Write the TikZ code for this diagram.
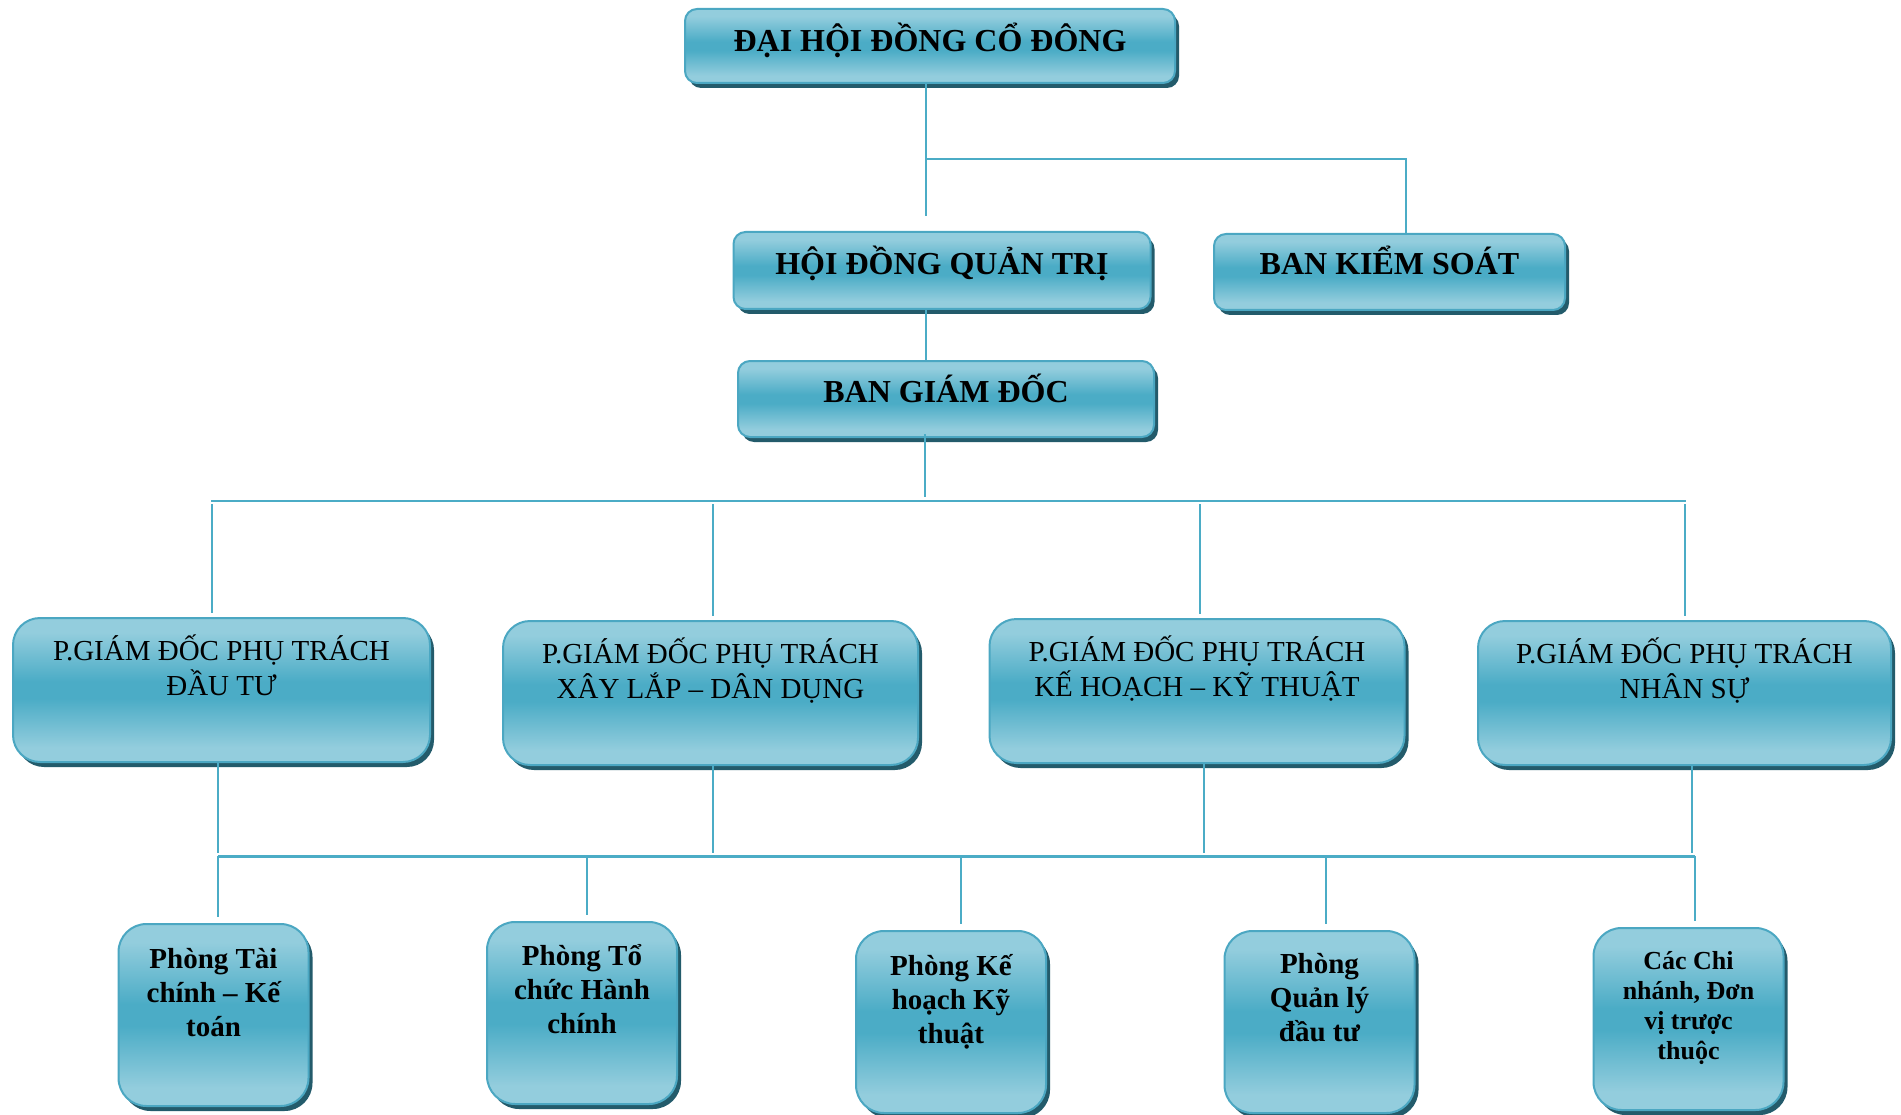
\documentclass[tikz,border=0pt]{standalone}
\usepackage{fontspec}
\setmainfont{Liberation Serif}
\usetikzlibrary{shadows}

\definecolor{boxlite}{HTML}{93CDDD}
\definecolor{boxmid}{HTML}{4BACC6}
\definecolor{boxedge}{HTML}{4BA7C2}
\definecolor{boxshade}{HTML}{235B6B}
\definecolor{linkc}{HTML}{4BACC6}

% light - dark - light, the middle 50bp is mapped onto the box
\pgfdeclareverticalshading{boxfill}{100bp}{color(0bp)=(boxlite); color(25bp)=(boxlite); color(30bp)=(boxlite); color(47bp)=(boxmid); color(53bp)=(boxmid); color(70bp)=(boxlite); color(100bp)=(boxlite)}

% text of a box: width, height, first baseline, lines
\newcommand{\boxtxt}[4]{\parbox[c][#2pt][t]{#1pt}{\centering\rule{0pt}{#3pt}#4}}

\tikzset{
    orgbox/.style={draw=boxedge, line width=2pt, shading=boxfill, inner sep=0pt,
        drop shadow={shadow xshift=4pt, shadow yshift=-5pt, fill=boxshade, opacity=1}},
    headbox/.style={orgbox, rounded corners=12pt, font=\bfseries\fontsize{32}{38}\selectfont},
    deputybox/.style={orgbox, rounded corners=27pt, font=\fontsize{29}{35}\selectfont},
    deptbox/.style={orgbox, rounded corners=28pt, font=\bfseries\fontsize{29}{34}\selectfont},
    conn/.style={draw=linkc, line width=2.5pt},
}

\begin{document}
\begin{tikzpicture}[x=1pt, y=-1pt]

    % Page frame
    \useasboundingbox (0,0) rectangle (1901,1115);

    % Bus levels
    \def\yja{159}   % under the general meeting
    \def\yjb{501}   % under the board of directors
    \def\yjc{856}   % under the deputies

    % Top levels
    \node[headbox] (dhdcd) at (930,46)     {\boxtxt{490}{74}{43}{ĐẠI HỘI ĐỒNG CỔ ĐÔNG}};
    \node[headbox] (hdqt)  at (942,270.5)  {\boxtxt{417}{77}{43}{HỘI ĐỒNG QUẢN TRỊ}};
    \node[headbox] (bks)   at (1389.5,272) {\boxtxt{351}{76}{41}{BAN KIỂM SOÁT}};
    \node[headbox] (bgd)   at (946,399)    {\boxtxt{416}{76}{41}{BAN GIÁM ĐỐC}};

    % Deputy directors
    \node[deputybox] (pdt) at (221.5,690) {\boxtxt{417}{144}{42}{P.GIÁM ĐỐC PHỤ TRÁCH\\ĐẦU TƯ}};
    \node[deputybox] (pxl) at (710.5,693) {\boxtxt{415}{144}{42}{P.GIÁM ĐỐC PHỤ TRÁCH\\XÂY LẮP – DÂN DỤNG}};
    \node[deputybox] (pkh) at (1197,691)  {\boxtxt{415}{144}{42}{P.GIÁM ĐỐC PHỤ TRÁCH\\KẾ HOẠCH – KỸ THUẬT}};
    \node[deputybox] (pns) at (1684.5,693) {\boxtxt{413}{144}{42}{P.GIÁM ĐỐC PHỤ TRÁCH\\NHÂN SỰ}};

    % Departments
    \node[deptbox] (ptc)   at (213.5,1015) {\boxtxt{190}{182}{44}{Phòng Tài\\chính – Kế\\toán}};
    \node[deptbox] (ptchc) at (582,1013)   {\boxtxt{190}{182}{43}{Phòng Tổ\\chức Hành\\chính}};
    \node[deptbox] (pkhkt) at (951,1022)   {\boxtxt{190}{182}{44}{Phòng Kế\\hoạch Kỹ\\thuật}};
    \node[deptbox] (pqlda) at (1319.5,1022) {\boxtxt{190}{182}{42}{Phòng\\Quản lý\\đầu tư}};
    \node[deptbox, font=\bfseries\fontsize{26}{30}\selectfont] (pcn) at (1688.5,1019)
        {\boxtxt{190}{182}{41}{Các Chi\\nhánh, Đơn\\vị trược\\thuộc}};

    % Connectors, top
    \coordinate (ja) at (926,\yja);
    \coordinate (jb) at (1406,\yja);
    \draw[conn] (ja |- dhdcd.south) -- (ja);
    \draw[conn, shorten >=15pt] (ja) -- (ja |- hdqt.north);
    \draw[conn] (ja) -- (jb) -- (jb |- bks.north);
    \draw[conn] (ja |- hdqt.south) -- (ja |- bgd.north);

    % Connectors, deputies
    \coordinate (jc) at (925,\yjb);
    \coordinate (busl) at (211,\yjb);
    \coordinate (busr) at (1686,\yjb);
    \draw[conn, shorten <=-4pt, shorten >=4pt] (jc |- bgd.south) -- (jc);
    \draw[conn] (busl) -- (busr);
    \foreach \n/\x in {pdt/212, pxl/713, pkh/1200, pns/1685}{
        \coordinate (t\n) at (\x,\yjb);
        \draw[conn, shorten <=3pt, shorten >=4pt] (t\n) -- (t\n |- \n.north);
    }

    % Connectors, departments
    \coordinate (dbusl) at (218,\yjc);
    \coordinate (dbusr) at (1695,\yjc);
    \draw[conn, line width=3pt] (dbusl) -- (dbusr);
    \foreach \n/\x in {pdt/218, pxl/713, pkh/1204, pns/1692}{
        \coordinate (u\n) at (\x,\yjc);
        \draw[conn, shorten >=3pt] (u\n |- \n.south) -- (u\n);
    }
    \foreach \n/\x in {ptc/218, ptchc/587, pkhkt/961, pqlda/1326, pcn/1695}{
        \coordinate (d\n) at (\x,\yjc);
        \draw[conn, shorten >=6pt] (d\n) -- (d\n |- \n.north);
    }

\end{tikzpicture}
\end{document}
